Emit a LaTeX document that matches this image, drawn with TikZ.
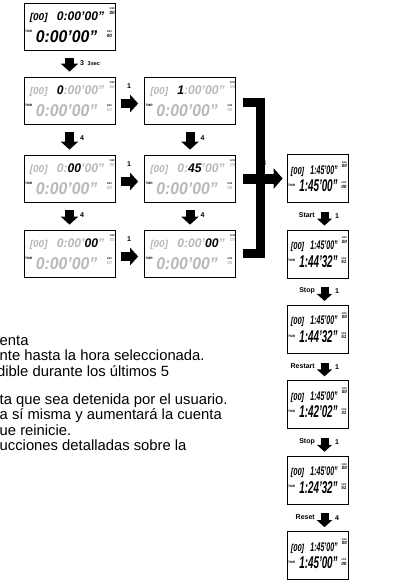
\documentclass[tikz,border=0pt]{standalone}
\usepackage{fontspec}
\setmainfont{Liberation Sans}
\usepackage{graphicx}
\usetikzlibrary{arrows.meta}
\definecolor{lcdgray}{RGB}{184,184,184}
\newcommand{\gr}[1]{\textcolor{lcdgray}{#1}}
\newcommand{\lcdmark}[2]{{\fontsize{2.6}{3}\selectfont #1}\\{\fontsize{4.6}{4.6}\selectfont\itshape #2}}
\tikzset{
 lcdL/.style={draw, line width=0.7pt, minimum width=91pt, minimum height=47pt, inner sep=0pt, fill=white},
 lcdR/.style={draw, line width=0.7pt, minimum width=61pt, minimum height=48pt, inner sep=0pt, fill=white},
 lcdid/.style={inner sep=0pt, font=\fontsize{10}{10}\selectfont\bfseries\itshape},
 lcdtop/.style={inner sep=0pt, font=\fontsize{12.5}{12.5}\selectfont\bfseries\itshape},
 lcdbot/.style={inner sep=0pt, font=\fontsize{17}{17}\selectfont\bfseries\itshape},
 lcdmk/.style={inner sep=0pt, align=center, font=\fontsize{4}{4.2}\selectfont\bfseries},
 lcdtmr/.style={inner sep=0pt, font=\fontsize{3.2}{3.2}\selectfont\bfseries},
 blockdown/.style={line width=9pt, -{Triangle[width=17pt,length=8pt]}, shorten <=8pt, shorten >=5pt},
 blockdownR/.style={line width=8pt, -{Triangle[width=15pt,length=7pt]}, shorten <=9pt, shorten >=4pt},
 blockright/.style={line width=9pt, -{Triangle[width=17pt,length=8pt]}, shorten <=6pt, shorten >=6pt},
 bracketbar/.style={line width=9pt, line join=miter},
 bigright/.style={line width=10pt, -{Triangle[width=20pt,length=9pt]}, shorten >=4pt},
 steplbl/.style={inner sep=0pt, font=\fontsize{7}{7}\selectfont\bfseries},
 smalllbl/.style={inner sep=0pt, font=\fontsize{5.5}{5.5}\selectfont\bfseries},
 bodytxt/.style={inner sep=0pt, anchor=base west, font=\fontsize{14.8}{16}\selectfont},
}
% left/middle display: name, position, [00] colour, top digits, top marker colour, bottom colour
\newcommand{\lcdboxL}[6]{%
 \node[lcdL] (#1) at (#2) {};
 \node[lcdid, text=#3, anchor=base west] (#1-id) at ([xshift=6pt,yshift=-18pt]#1.north west) {[00]};
 \node[lcdtop, anchor=base east] (#1-top) at ([xshift=-11pt,yshift=-18pt]#1.north east) {\scalebox{0.97}[1]{#4}};
 \node[lcdmk] (#1-tm) at ([xshift=-3.2pt,yshift=-8.5pt]#1.north east) {\lcdmark{1/10}{\textcolor{#5}{00}}};
 \node[lcdtmr] (#1-tmr) at ([xshift=5pt,yshift=-29pt]#1.north west) {TMR};
 \node[lcdbot, text=#6, anchor=base west] (#1-bot) at ([xshift=12pt,yshift=-39.5pt]#1.north west) {\scalebox{0.93}[1]{0:00'00"}};
 \node[lcdmk] (#1-bm) at ([xshift=-6pt,yshift=-31.5pt]#1.north east) {\lcdmark{1/10}{\textcolor{#6}{00}}};
}
% right display: name, position, bottom digits, bottom marker digits
\newcommand{\lcdboxR}[4]{%
 \node[lcdR] (#1) at (#2) {};
 \node[lcdid, anchor=base west] (#1-id) at ([xshift=4pt,yshift=-20pt]#1.north west) {\scalebox{0.75}[1]{[00]}};
 \node[lcdtop, anchor=base east] (#1-top) at ([xshift=-10.5pt,yshift=-20pt]#1.north east) {\scalebox{0.56}[1]{1:45'00"}};
 \node[lcdmk] (#1-tm) at ([xshift=-4pt,yshift=-10.5pt]#1.north east) {\lcdmark{1/10}{00}};
 \node[lcdtmr] (#1-tmr) at ([xshift=5pt,yshift=-31pt]#1.north west) {TMR};
 \node[lcdbot, anchor=base east] (#1-bot) at ([xshift=-10.5pt,yshift=-37.5pt]#1.north east) {\scalebox{0.58}[1]{#3}};
 \node[lcdmk] (#1-bm) at ([xshift=-4.5pt,yshift=-31pt]#1.north east) {\lcdmark{1/10}{#4}};
}
\begin{document}
\begin{tikzpicture}[x=1pt,y=-1pt]
\useasboundingbox (0,0) rectangle (398,580);
% left column
\lcdboxL{b1}{69.5,26.5}{black}{0:00'00"}{black}{black}
\lcdboxL{b2}{69.5,100.5}{lcdgray}{0\gr{:00'00"}}{lcdgray}{lcdgray}
\lcdboxL{b3}{69.5,178.5}{lcdgray}{\gr{0:}00\gr{'00"}}{lcdgray}{lcdgray}
\lcdboxL{b4}{69.5,253.5}{lcdgray}{\gr{0:00'}00\gr{"}}{lcdgray}{lcdgray}
% middle column
\lcdboxL{m2}{190,100.5}{lcdgray}{1\gr{:00'00"}}{lcdgray}{lcdgray}
\lcdboxL{m3}{190,178.5}{lcdgray}{\gr{0:}45\gr{'00"}}{lcdgray}{lcdgray}
\lcdboxL{m4}{190,253.5}{lcdgray}{\gr{0:00'}00\gr{"}}{lcdgray}{lcdgray}
% right column
\lcdboxR{r1}{317.5,178.5}{1:45'00"}{00}
\lcdboxR{r2}{317.5,253.9}{1:44'32"}{51}
\lcdboxR{r3}{317.5,329.3}{1:44'32"}{51}
\lcdboxR{r4}{317.5,404.7}{1:42'02"}{31}
\lcdboxR{r5}{317.5,480.1}{1:24'32"}{51}
\lcdboxR{r6}{317.5,555.5}{1:45'00"}{00}
% down arrows left / middle
\draw[blockdown] (b1) -- (b2);
\node[steplbl, anchor=west] (l12a) at (80,63) {3};
\node[smalllbl, anchor=west] (l12b) at (87.5,63.5) {3sec};
\draw[blockdown] (b2) -- (b3);
\node[steplbl, anchor=west] (l23) at (80,138.5) {4};
\draw[blockdown] (b3) -- (b4);
\node[steplbl, anchor=west] (l34) at (80,215.5) {4};
\draw[blockdown] (m2) -- (m3);
\node[steplbl, anchor=west] (lm23) at (200.5,138.5) {4};
\draw[blockdown] (m3) -- (m4);
\node[steplbl, anchor=west] (lm34) at (200.5,215.5) {4};
% right arrows between columns
\draw[blockright] ([yshift=-3pt]b2.east) -- ([yshift=-3pt]m2.west);
\node[steplbl] (lr2) at (129,86) {1};
\draw[blockright] ([yshift=-3pt]b3.east) -- ([yshift=-3pt]m3.west);
\node[steplbl] (lr3) at (129,164) {1};
\draw[blockright] ([yshift=-3pt]b4.east) -- ([yshift=-3pt]m4.west);
\node[steplbl] (lr4) at (129,239) {1};
% bracket
\coordinate (bj) at (260.5,178.5);
\draw[bracketbar] ([xshift=7pt,yshift=-2pt]m2.east) -| (bj) |- ([xshift=7pt]m4.east);
\draw[bigright] ([xshift=7pt]m3.east) -- (r1.west);
\node[steplbl] (l3) at (264,163) {3};
% right column arrows
\draw[blockdownR] ([xshift=7pt]r1.south) -- ([xshift=7pt]r2.north);
\node[steplbl, anchor=east] (ls1) at (315,215.5) {Start};
\node[steplbl, anchor=west] (ls1n) at (335,216) {1};
\draw[blockdownR] ([xshift=7pt]r2.south) -- ([xshift=7pt]r3.north);
\node[steplbl, anchor=east] (ls2) at (315,291) {Stop};
\node[steplbl, anchor=west] (ls2n) at (335,291.5) {1};
\draw[blockdownR] ([xshift=7pt]r3.south) -- ([xshift=7pt]r4.north);
\node[steplbl, anchor=east] (ls3) at (315,366.5) {Restart};
\node[steplbl, anchor=west] (ls3n) at (335,367) {1};
\draw[blockdownR] ([xshift=7pt]r4.south) -- ([xshift=7pt]r5.north);
\node[steplbl, anchor=east] (ls4) at (315,442) {Stop};
\node[steplbl, anchor=west] (ls4n) at (335,442.5) {1};
\draw[blockdownR] ([xshift=7pt]r5.south) -- ([xshift=7pt]r6.north);
\node[steplbl, anchor=east] (ls5) at (315,517.5) {Reset};
\node[steplbl, anchor=west] (ls5n) at (335,518) {4};
% body text (cut at the left edge)
\node[bodytxt] (t1) at (-0.5,345) {enta};
\node[bodytxt] (t2) at (-0.5,360.5) {nte hasta la hora seleccionada.};
\node[bodytxt] (t3) at (-3,376) {dible durante los últimos 5};
\node[bodytxt] (t4) at (-0.5,404) {ta que sea detenida por el usuario.};
\node[bodytxt] (t5) at (-0.5,419.5) {a sí misma y aumentará la cuenta};
\node[bodytxt] (t6) at (-0.5,435) {ue reinicie.};
\node[bodytxt] (t7) at (-0.5,450.5) {ucciones detalladas sobre la};
\end{tikzpicture}
\end{document}
